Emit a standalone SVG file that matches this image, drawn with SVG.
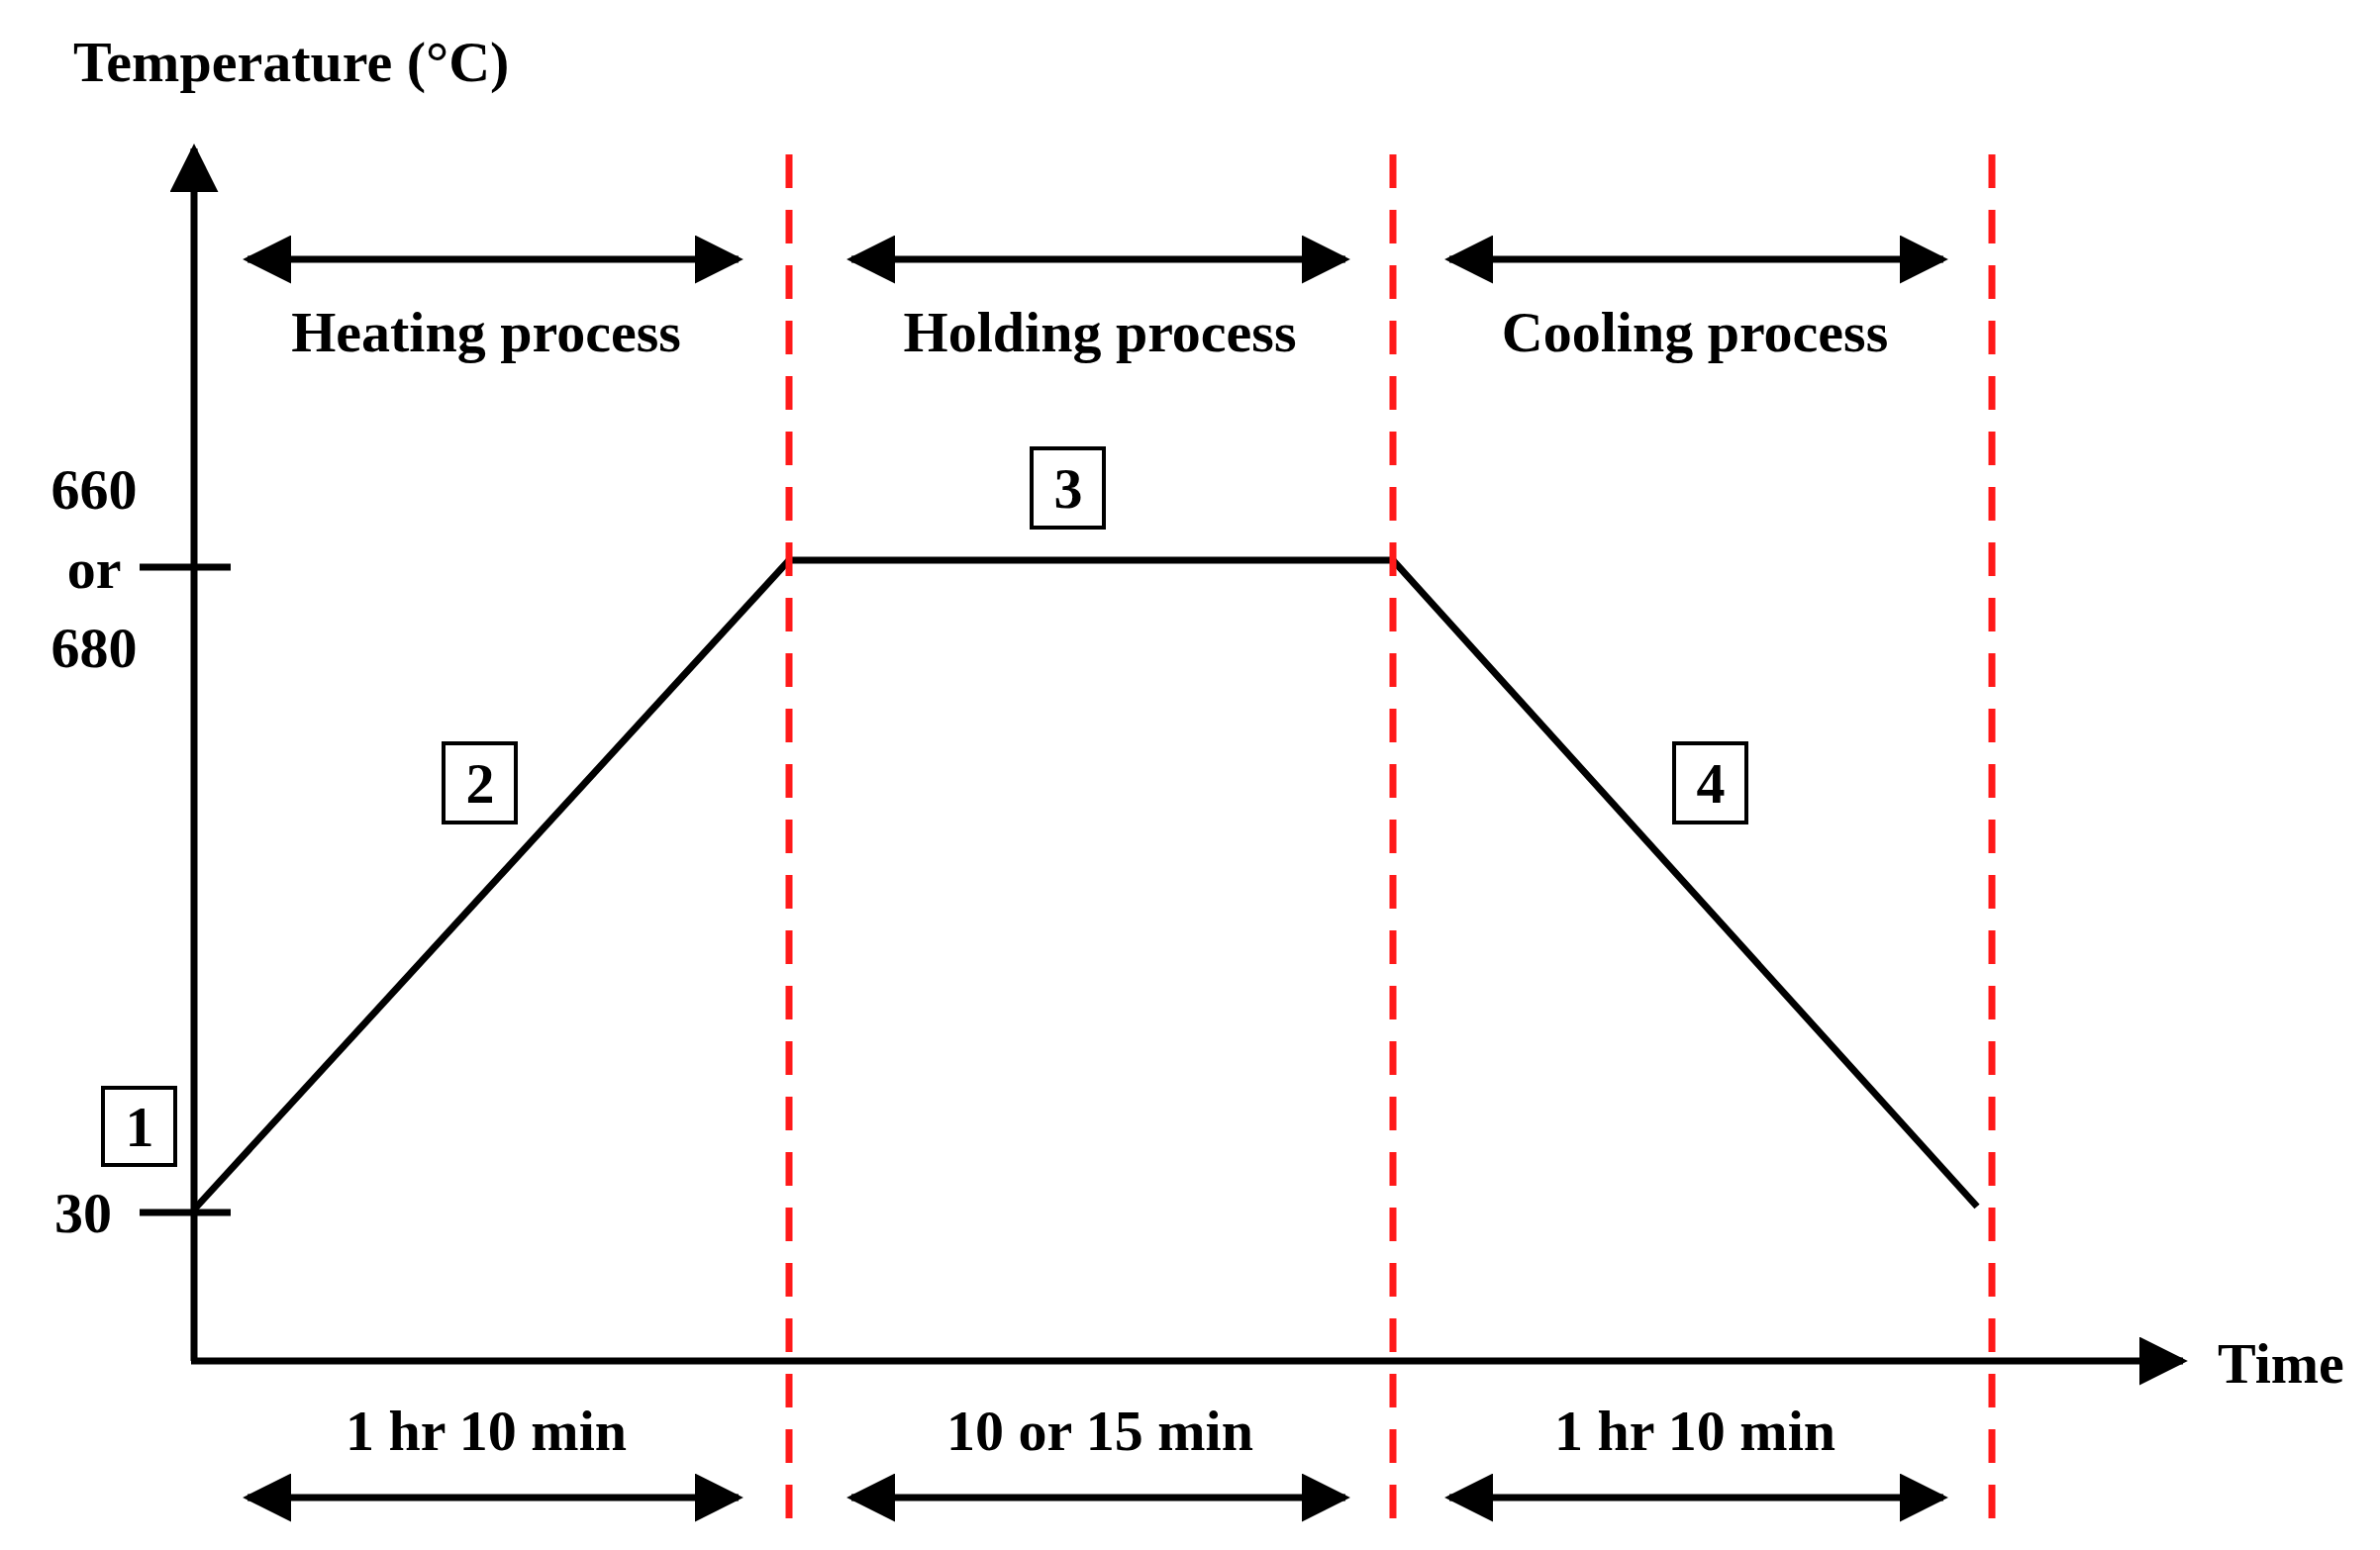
<svg xmlns="http://www.w3.org/2000/svg" width="2404" height="1566" viewBox="0 0 2404 1566">
<style>
text{font-family:"Liberation Serif","Times New Roman",serif;font-weight:bold;fill:#000}
.t{font-size:58px}
.c{text-anchor:middle}
.ln{stroke:#000;fill:none}
.dash{stroke:#ff1a1a;stroke-width:7;stroke-dasharray:34 22}
.box{fill:#fff;stroke:#000;stroke-width:4}
</style>
<defs>
<marker id="ah" viewBox="0 0 10 10" refX="9" refY="5" markerWidth="7" markerHeight="7" markerUnits="strokeWidth" orient="auto-start-reverse"><path d="M0,0 L10,5 L0,10 z" fill="#000"/></marker>
</defs>
<rect width="2404" height="1566" fill="#fff"/>
<g id="connectors">
<line class="ln" x1="196" y1="1375" x2="196" y2="150" stroke-width="7" marker-end="url(#ah)"/>
<line class="ln" x1="193" y1="1375" x2="2205" y2="1375" stroke-width="7" marker-end="url(#ah)"/>
<line class="ln" x1="141" y1="573" x2="233" y2="573" stroke-width="7"/>
<line class="ln" x1="141" y1="1225" x2="233" y2="1225" stroke-width="7"/>
<polyline class="ln" points="196,1222 797,566 1407,566 1997,1219" stroke-width="7"/>
<line class="dash" x1="797" y1="156" x2="797" y2="1535"/>
<line class="dash" x1="1407" y1="156" x2="1407" y2="1535"/>
<line class="dash" x1="2012" y1="156" x2="2012" y2="1535"/>
<line class="ln" x1="250" y1="262" x2="746" y2="262" stroke-width="7" marker-start="url(#ah)" marker-end="url(#ah)"/>
<line class="ln" x1="860" y1="262" x2="1359" y2="262" stroke-width="7" marker-start="url(#ah)" marker-end="url(#ah)"/>
<line class="ln" x1="1464" y1="262" x2="1963" y2="262" stroke-width="7" marker-start="url(#ah)" marker-end="url(#ah)"/>
<line class="ln" x1="250" y1="1513" x2="746" y2="1513" stroke-width="7" marker-start="url(#ah)" marker-end="url(#ah)"/>
<line class="ln" x1="860" y1="1513" x2="1359" y2="1513" stroke-width="7" marker-start="url(#ah)" marker-end="url(#ah)"/>
<line class="ln" x1="1464" y1="1513" x2="1963" y2="1513" stroke-width="7" marker-start="url(#ah)" marker-end="url(#ah)"/>
</g>
<g id="labels">
<text class="t" x="74" y="82">Temperature (°C)</text>
<text class="t c" x="491" y="355">Heating process</text>
<text class="t c" x="1111" y="355">Holding process</text>
<text class="t c" x="1712" y="355">Cooling process</text>
<text class="t c" x="491" y="1465">1 hr 10 min</text>
<text class="t c" x="1111" y="1465">10 or 15 min</text>
<text class="t c" x="1712" y="1465">1 hr 10 min</text>
<text class="t c" x="95" y="514">660</text>
<text class="t c" x="95" y="594">or</text>
<text class="t c" x="95" y="674">680</text>
<text class="t c" x="84" y="1245">30</text>
<text class="t" x="2240" y="1397">Time</text>
</g>
<g id="box1"><rect class="box" x="104" y="1099" width="73" height="78"/><text class="t c" x="141" y="1158">1</text></g>
<g id="box2"><rect class="box" x="448" y="751" width="73" height="80"/><text class="t c" x="485" y="811">2</text></g>
<g id="box3"><rect class="box" x="1042" y="453" width="73" height="80"/><text class="t c" x="1079" y="513">3</text></g>
<g id="box4"><rect class="box" x="1691" y="751" width="73" height="80"/><text class="t c" x="1728" y="811">4</text></g>
</svg>
